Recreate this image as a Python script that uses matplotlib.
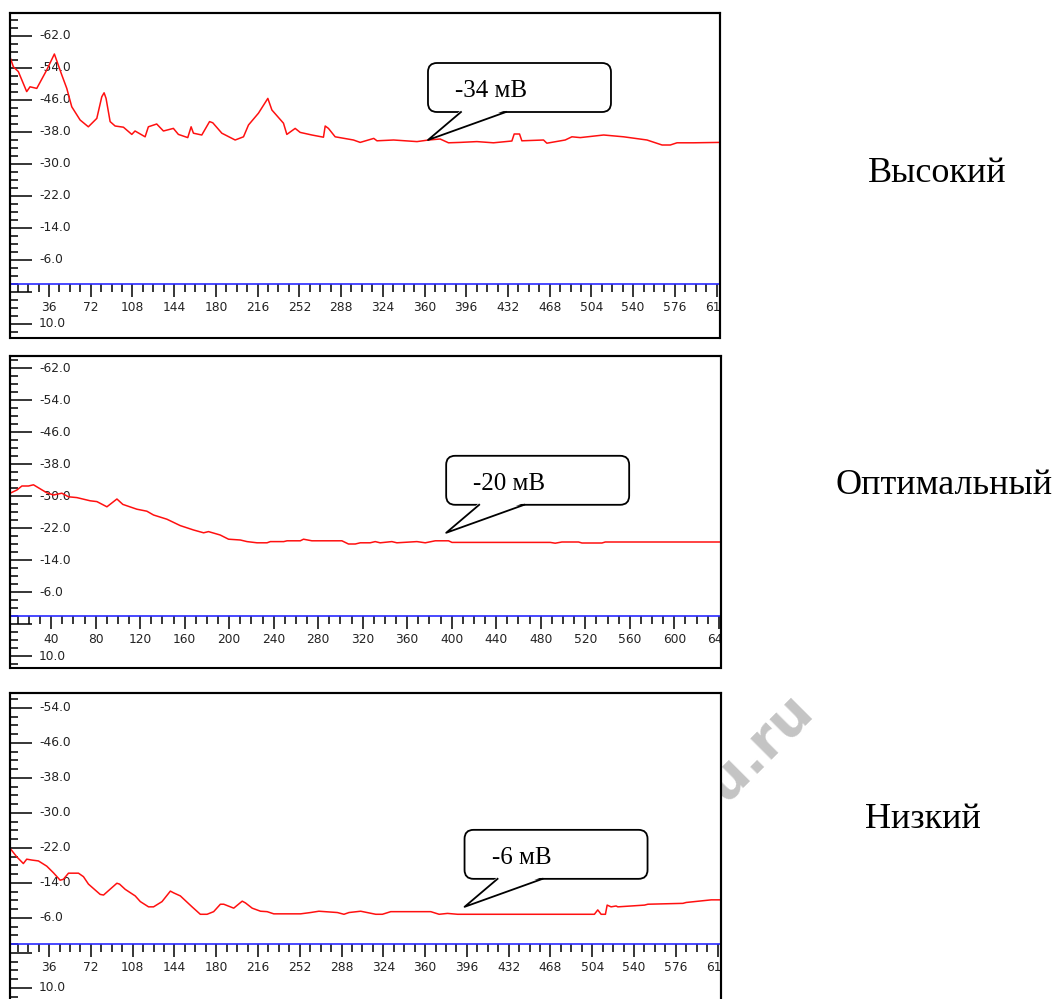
import numpy as np
import matplotlib
matplotlib.use("Agg")
from matplotlib import pyplot as plt
from matplotlib.patches import FancyBboxPatch, Polygon, Rectangle
from matplotlib.lines import Line2D
from matplotlib.ticker import FixedLocator, MultipleLocator, FuncFormatter
from matplotlib.transforms import IdentityTransform

# Data (time, potential in mV)
x_high = [2.3, 5.2, 9.5, 16.7, 19.6, 25.4, 34, 40.6, 47, 51.3, 55.6, 62.8, 69.9, 77.2, 81.5, 83.5,
          85.2, 88.7, 93, 100.2, 107.4, 110.2, 118.9, 121.7, 128.9, 134.7, 143.3, 147.6, 155.7,
          158.6, 160.6, 167.8, 174.5, 177.3, 185.1, 196.6, 203.8, 208.1, 216.7, 224.8, 228.3,
          238.3, 241.2, 248.4, 252.7, 262.8, 272.8, 274.3, 277.1, 282.9, 298.7, 304.5, 316.2,
          319, 333.3, 353.5, 363.5, 373.5, 380.7, 390.8, 405.2, 419.5, 435.4, 437.4, 442, 444,
          462.7, 465.6, 481.4, 487.2, 494.4, 514.6, 531.8, 552, 565, 572.1, 577.9, 592.2, 615]
y_high = [-56.75, -54.3, -53.1, -48.1, -49.3, -48.9, -53.5, -57.5, -52.25, -48.9, -44.3, -41,
          -39.3, -41.4, -46.8, -47.8, -46.4, -40.6, -39.5, -39.2, -37.4, -38.25, -36.8, -39.3,
          -40, -38.25, -38.9, -37.4, -36.6, -39.3, -37.7, -37.25, -40.6, -40.3, -37.7, -36,
          -36.8, -39.75, -42.7, -46.4, -43.5, -40.2, -37.4, -38.9, -37.9, -37.25, -36.7, -39.5,
          -38.9, -36.8, -36, -35.4, -36.4, -35.8, -36, -35.6, -36, -36.25, -35.3, -35.4, -35.6,
          -35.3, -35.75, -37.5, -37.5, -35.8, -36, -35.2, -36, -36.8, -36.6, -37.25, -36.8, -36,
          -34.75, -34.75, -35.3, -35.3, -35.4]

x_opt = [3.1, 9.2, 13.7, 19.6, 24.1, 36.1, 42.1, 49.6, 55.6, 63.1, 75.1, 81.1, 90.1, 99.1, 104.4,
         117, 126, 132, 144, 156, 168, 177, 181.4, 191.9, 199.4, 210, 216, 225, 234, 237, 249,
         252, 263.9, 266.8, 274.3, 301.3, 307.2, 313.3, 317.8, 326.7, 331.2, 335.7, 346.2, 350.7,
         368.7, 376.2, 385.2, 397.1, 400.2, 488.5, 493, 499, 514, 517, 535, 538, 641]
y_opt = [-30.7, -31.5, -32.5, -32.5, -32.8, -30.8, -30.25, -30.7, -29.8, -29.6, -28.8, -28.6,
         -27.3, -29.25, -27.9, -26.7, -26.2, -25.25, -24.2, -22.6, -21.5, -20.8, -21.1, -20.25,
         -19.2, -19, -18.6, -18.3, -18.3, -18.6, -18.6, -18.8, -18.8, -19.2, -18.8, -18.8, -18,
         -18, -18.3, -18.3, -18.6, -18.3, -18.6, -18.3, -18.6, -18.3, -18.8, -18.8, -18.4, -18.4,
         -18.2, -18.5, -18.5, -18.25, -18.25, -18.5, -18.5]

x_low = [2.3, 8.1, 13.8, 16.7, 21.1, 26.8, 34, 39.7, 45.5, 48.3, 52.7, 61.3, 65.6, 69.9, 80, 82.9,
         94.4, 96.7, 101.6, 110.2, 114.6, 121.7, 126, 133.3, 140.5, 143.3, 149.1, 159.2, 166.3,
         172.1, 177.8, 183.6, 186.5, 195.1, 202.4, 205.2, 211, 218.2, 223.9, 229.6, 252.7, 261.3,
         268.5, 284.4, 290.1, 294.4, 304.5, 317.5, 323.2, 330.4, 364.9, 372.1, 379.3, 388, 505.9,
         508.8, 511.7, 515.4, 516.9, 520.3, 524.6, 526.1, 549.1, 552, 582.2, 585, 606.6, 615]
y_low = [-21.9, -19.95, -18.4, -19.4, -19.2, -19, -17.8, -16.3, -14.6, -14.8, -16.2, -16.2, -15.4,
         -13.7, -11.35, -11.2, -13.9, -13.7, -12.5, -11, -9.7, -8.5, -8.5, -9.7, -12.1, -11.7,
         -11, -8.5, -6.8, -6.8, -7.4, -9.1, -9.1, -8.2, -9.8, -9.4, -8.2, -7.5, -7.4, -6.9, -6.9,
         -7.2, -7.5, -7.2, -6.8, -7.2, -7.5, -6.8, -6.8, -7.4, -7.4, -6.8, -7, -6.8, -6.8, -7.8,
         -6.8, -6.8, -8.9, -8.5, -8.7, -8.5, -8.9, -9.1, -9.3, -9.5, -10.1, -10.1]

mode_labels = ["Высокий", "Оптимальный", "Низкий"]
callout_texts = ["-34 мВ", "-20 мВ", "-6 мВ"]
callout_x = [363, 395, 394]
callout_y = [-36.0, -20.8, -8.5]
y_major = np.arange(-62, 11, 8)

W, H = 1056, 999
fig = plt.figure(figsize=(W / 100, H / 100), dpi=100)

# watermark, mostly hidden behind the last panel
fig.text(815 / W, 1 - 712 / H, "ru.ru", fontsize=40, fontweight="bold", color="#c4c4c4",
         rotation=45, rotation_mode="anchor", ha="right", va="baseline", zorder=-5)

# panel frames in pixels: left, top, right, bottom
frames = [(10, 13, 720, 338), (10, 356, 721, 668), (10, 693, 721, 1000)]
ylims = [(13.5, -67.75), (13.0, -65.0), (12.8, -57.4)]
xlims = [(2.3, 615), (3.0, 642), (2.3, 615)]
xsteps = [36, 40, 36]
label_x = [937, 944, 923]
label_y = [173, 485, 820]
series = [(x_high, y_high), (x_opt, y_opt), (x_low, y_low)]

tick_family = "DejaVu Sans"
tick_size = 8.8


def ylab(v, pos):
    # the 2.0 tick has no label in the recordings
    if abs(v - 2) < 1e-6:
        return ""
    return "%.1f" % v


for i in range(3):
    l, t, r, b = frames[i]
    ax = fig.add_axes([l / W, 1 - b / H, (r - l) / W, (b - t) / H])
    xs, ys = series[i]
    ax.plot(xs, ys, color="#ff1010", lw=1.1, zorder=3)
    ax.set_xlim(*xlims[i])
    ax.set_ylim(*ylims[i])

    # blue zero line carries the time ticks
    ax.spines["bottom"].set_position(("data", 0))
    ax.spines["bottom"].set_color("#2a2aff")
    ax.spines["bottom"].set_linewidth(1.2)
    for s in ["left", "top", "right"]:
        ax.spines[s].set_linewidth(1.5)
    ax.add_patch(Rectangle((0, 0), 1, 1, transform=ax.transAxes, fill=False,
                           ec="black", lw=1.5, clip_on=False, zorder=5))

    ax.xaxis.set_major_locator(MultipleLocator(xsteps[i]))
    ax.xaxis.set_minor_locator(MultipleLocator(xsteps[i] / 4))
    ax.tick_params(axis="x", which="major", direction="out", length=9.5, width=1.1,
                   color="black", pad=3, labelcolor="#222222")
    ax.tick_params(axis="x", which="minor", direction="out", length=5.5, width=1.1, color="black")

    ax.yaxis.set_major_locator(FixedLocator(y_major))
    ax.yaxis.set_minor_locator(MultipleLocator(2))
    ax.yaxis.set_major_formatter(FuncFormatter(ylab))
    ax.tick_params(axis="y", which="major", direction="in", length=16, width=1.1,
                   color="black", pad=-21, labelcolor="#222222")
    ax.tick_params(axis="y", which="minor", direction="in", length=6, width=1.1, color="black")

    for lab in ax.get_yticklabels():
        lab.set_horizontalalignment("left")
        lab.set_fontfamily(tick_family)
        lab.set_fontsize(tick_size)
        lab.set_verticalalignment("center")
    for tk in ax.xaxis.get_major_ticks():
        tk.label1.set_fontfamily(tick_family)
        tk.label1.set_fontsize(tick_size)
        tk.label1.set_clip_on(True)
        tk.label1.set_clip_box(ax.bbox)

    # speech-bubble callout, geometry in pixels relative to its tip
    tx, ty = ax.transData.transform((callout_x[i], callout_y[i]))
    bl, bb, bw, bh = tx + 0, ty + 28, 183, 49
    box = FancyBboxPatch((bl, bb), bw, bh, boxstyle="round,pad=0,rounding_size=9",
                         fc="white", ec="black", lw=1.3, transform=IdentityTransform(), zorder=6)
    fig.add_artist(box)
    tail = Polygon([(tx + 33, bb + 2), (tx, ty), (tx + 78, bb + 2)], closed=True,
                   fc="white", ec="none", transform=IdentityTransform(), zorder=7)
    fig.add_artist(tail)
    fig.add_artist(Line2D([tx + 33, tx, tx + 78], [bb, ty, bb], color="black", lw=1.3,
                          transform=IdentityTransform(), zorder=8))
    fig.text(bl + 27, bb + bh / 2 - 4, callout_texts[i], transform=IdentityTransform(),
             family="Liberation Serif", fontsize=18, va="center", ha="left", zorder=9)

    # regime name on the right
    fig.text(label_x[i] / W, 1 - label_y[i] / H, mode_labels[i], family="Liberation Serif",
             fontsize=26, ha="center", va="center")

fig.savefig("out.png", dpi=100)
